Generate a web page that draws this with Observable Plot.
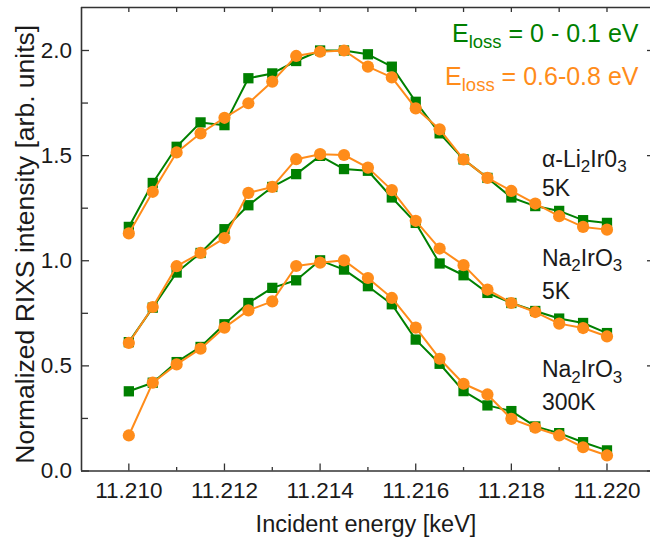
<!DOCTYPE html>
<html><head><meta charset="utf-8">
<script src="https://cdn.jsdelivr.net/npm/d3@7"></script>
<script src="https://cdn.jsdelivr.net/npm/@observablehq/plot@0.6"></script>
<style>
html,body{margin:0;padding:0;background:#fff;overflow:hidden} svg{display:block}
</style>
</head><body><div id="chart"></div>
<script>
// Incident energy (keV)
const energy = [11.2100, 11.2105, 11.2110, 11.2115, 11.2120, 11.2125, 11.2130, 11.2135, 11.2140, 11.2145,
  11.2150, 11.2155, 11.2160, 11.2165, 11.2170, 11.2175, 11.2180, 11.2185, 11.2190, 11.2195, 11.2200];

// alpha-Li2IrO3 5K
const liLow  = [1.161, 1.370, 1.542, 1.658, 1.645, 1.868, 1.891, 1.950, 2.000, 2.000, 1.982, 1.923, 1.756, 1.606, 1.482, 1.394, 1.301, 1.260, 1.237, 1.193, 1.180];
const liHigh = [1.130, 1.328, 1.515, 1.606, 1.680, 1.749, 1.852, 1.974, 1.994, 2.000, 1.923, 1.872, 1.725, 1.625, 1.482, 1.394, 1.332, 1.272, 1.212, 1.161, 1.148];
// Na2IrO3 5K
const na5Low  = [0.613, 0.777, 0.944, 1.037, 1.150, 1.264, 1.351, 1.412, 1.499, 1.436, 1.428, 1.301, 1.180, 0.987, 0.931, 0.847, 0.799, 0.761, 0.725, 0.704, 0.656];
const na5High = [0.609, 0.780, 0.974, 1.037, 1.108, 1.323, 1.351, 1.483, 1.507, 1.503, 1.443, 1.336, 1.190, 1.058, 0.979, 0.863, 0.799, 0.756, 0.701, 0.680, 0.640];
// Na2IrO3 300K
const na300Low  = [0.379, 0.420, 0.518, 0.590, 0.698, 0.799, 0.871, 0.907, 1.002, 0.958, 0.879, 0.793, 0.625, 0.510, 0.380, 0.312, 0.285, 0.212, 0.180, 0.137, 0.098];
const na300High = [0.169, 0.420, 0.507, 0.582, 0.682, 0.764, 0.807, 0.975, 0.991, 1.002, 0.918, 0.823, 0.682, 0.534, 0.415, 0.364, 0.248, 0.206, 0.169, 0.113, 0.074];

const xTickLabels = [11.210, 11.212, 11.214, 11.216, 11.218, 11.220];
const xMinorTicks = [11.211, 11.213, 11.215, 11.217, 11.219];
const yTickLabels = [0.0, 0.5, 1.0, 1.5, 2.0];
const yMinorTicks = [0.25, 0.75, 1.25, 1.75];

const legendTexts = ["E_{loss} = 0 - 0.1 eV", "E_{loss} = 0.6-0.8 eV"];
const sampleLabelTexts = ["α-Li_2Ir0_3", "5K", "Na_2IrO_3", "5K", "Na_2IrO_3", "300K"];
const sampleLabelX = [11.21864, 11.21864, 11.21864, 11.21864, 11.21864, 11.21864];
const sampleLabelY = [1.448, 1.310, 0.977, 0.819, 0.446, 0.288];

const xTitle = "Incident energy [keV]";
const yTitle = "Normalized RIXS intensity [arb. units]";

const green = "#008000", orange = "#ff8c1a", ink = "#1a1a1a", axisInk = "#333";

const samples = [
  {name: "Li2IrO3 5K", low: liLow, high: liHigh},
  {name: "Na2IrO3 5K", low: na5Low, high: na5High},
  {name: "Na2IrO3 300K", low: na300Low, high: na300High}
];
const lowRows = samples.flatMap(s => energy.map((e, i) => ({sample: s.name, x: e, y: s.low[i]})));
const highRows = samples.flatMap(s => energy.map((e, i) => ({sample: s.name, x: e, y: s.high[i]})));

const W = 650, H = 543, mL = 81, mR = 0, mT = 7, mB = 72.5;
const plotW = W - mL - mR, plotH = H - mT - mB;
const xDomain = [11.20901, 11.22091], yDomain = [0, 2.2045];
const allXTicks = [...xTickLabels, ...xMinorTicks];

const chart = Plot.plot({
  width: W, height: H,
  marginLeft: mL, marginRight: mR, marginTop: mT, marginBottom: mB,
  style: {fontFamily: "'Liberation Sans', Arial, sans-serif", fontSize: "22px", background: "#fff", color: ink, overflow: "visible"},
  x: {domain: xDomain, label: null, axis: null},
  y: {domain: yDomain, label: null, axis: null},
  marks: [
    // frame (left, bottom, top)
    Plot.ruleX([xDomain[0]], {stroke: axisInk, strokeWidth: 1.6}),
    Plot.ruleY([yDomain[0]], {stroke: axisInk, strokeWidth: 1.6}),
    Plot.ruleY([yDomain[1]], {stroke: axisInk, strokeWidth: 1.6}),
    // inward ticks
    Plot.tickX(xTickLabels, {x: d => d, insetTop: plotH - 7, stroke: axisInk, strokeWidth: 1.3}),
    Plot.tickX(xMinorTicks, {x: d => d, insetTop: plotH - 3.5, stroke: axisInk, strokeWidth: 1.3}),
    Plot.tickX(allXTicks, {x: d => d, insetBottom: plotH - 5, stroke: axisInk, strokeWidth: 1.3}),
    Plot.tickY(yTickLabels, {y: d => d, insetRight: plotW - 8, stroke: axisInk, strokeWidth: 1.3}),
    Plot.tickY(yMinorTicks, {y: d => d, insetRight: plotW - 7, stroke: axisInk, strokeWidth: 1.3}),
    Plot.tickY(yTickLabels, {y: d => d, insetLeft: plotW - 3, stroke: axisInk, strokeWidth: 1.3}),
    // tick labels
    Plot.text(xTickLabels, {x: d => d, text: d => d3.format(".3f")(d), frameAnchor: "bottom", textAnchor: "middle", lineAnchor: "top", dy: 11, fontSize: 22.5, fill: ink}),
    Plot.text(yTickLabels, {y: d => d, text: d => d3.format(".1f")(d), frameAnchor: "left", textAnchor: "end", lineAnchor: "middle", dx: -9.5, fontSize: 22.5, fill: ink}),
    // data
    Plot.line(lowRows, {x: "x", y: "y", z: "sample", stroke: green, strokeWidth: 2}),
    Plot.dot(lowRows, {x: "x", y: "y", symbol: "square", r: 5.8, fill: green}),
    Plot.line(highRows, {x: "x", y: "y", z: "sample", stroke: orange, strokeWidth: 2}),
    Plot.dot(highRows, {x: "x", y: "y", symbol: "circle", r: 6.1, fill: orange}),
    // titles
    Plot.text([xTitle], {text: d => d, frameAnchor: "bottom", textAnchor: "middle", lineAnchor: "bottom", dy: 61, fontSize: 23.5, fill: ink}),
    Plot.text([yTitle], {text: d => d, frameAnchor: "left", textAnchor: "middle", lineAnchor: "bottom", rotate: -90, dx: -47.5, dy: 5, fontSize: 26.5, fill: ink}),
    // legend
    Plot.text([legendTexts[0]], {text: d => d, frameAnchor: "top-right", textAnchor: "end", lineAnchor: "bottom", dx: -12, dy: 34.7, fontSize: 25, fill: green}),
    Plot.text([legendTexts[1]], {text: d => d, frameAnchor: "top-right", textAnchor: "end", lineAnchor: "bottom", dx: -12, dy: 77, fontSize: 25, fill: orange}),
    // sample labels
    Plot.text(sampleLabelTexts, {x: (d, i) => sampleLabelX[i], y: (d, i) => sampleLabelY[i], text: d => d, textAnchor: "start", lineAnchor: "bottom", fontSize: 23, fill: ink})
  ]
});
document.getElementById("chart").appendChild(chart);

// subscripts: "_{abc}" or "_x"
chart.querySelectorAll("text").forEach(t => {
  const s = t.textContent;
  if (!s.includes("_")) return;
  const fs = parseFloat(getComputedStyle(t).fontSize) || 20;
  const subFs = fs * 0.74, shift = fs * 0.25;
  const parts = s.split(/(_\{[^}]*\}|_.)/).filter(p => p);
  t.textContent = "";
  let down = false;
  for (const p of parts) {
    const ts = document.createElementNS("http://www.w3.org/2000/svg", "tspan");
    if (p.startsWith("_")) {
      ts.textContent = p.startsWith("_{") ? p.slice(2, -1) : p.slice(1);
      ts.setAttribute("font-size", subFs);
      if (!down) { ts.setAttribute("dy", shift); down = true; }
    } else {
      ts.textContent = p;
      if (down) { ts.setAttribute("dy", -shift); down = false; }
    }
    t.appendChild(ts);
  }
});
</script></body></html>
